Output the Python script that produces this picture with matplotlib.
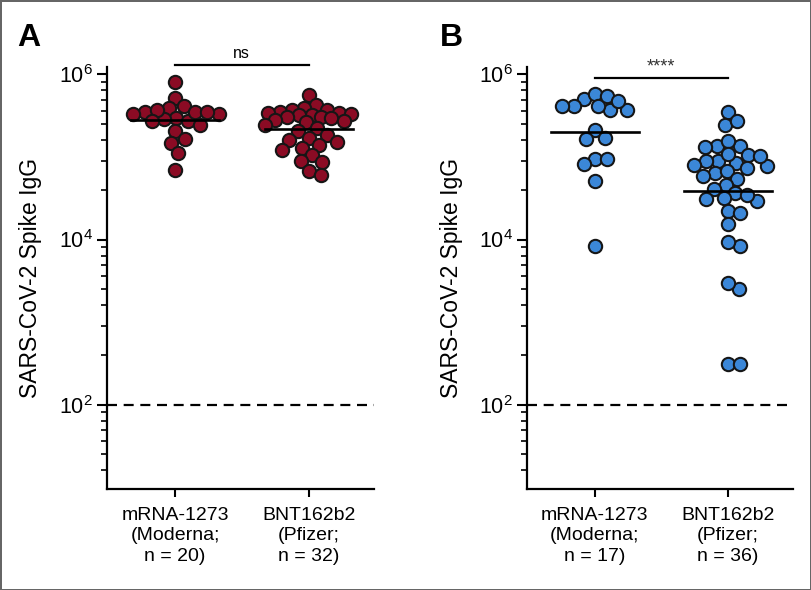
import numpy as np
import matplotlib.pyplot as plt
from matplotlib.ticker import FixedLocator, NullFormatter

plt.rcParams['font.family'] = ['Liberation Sans', 'DejaVu Sans']

# SARS-CoV-2 spike IgG titers
moderna_a = [805000, 525000, 416000, 391000, 352000, 296000, 333000, 288000, 269000, 372000,
             355000, 269000, 245000, 333000, 352000, 204000, 165000, 148000, 112000, 68700]
pfizer_a = [565000, 428000, 394000, 372000, 372000, 355000, 340000, 340000, 333000, 324000,
            324000, 309000, 309000, 296000, 282000, 269000, 267000, 245000, 224000, 204000,
            186000, 171000, 161000, 153000, 141000, 129000, 122000, 106000, 88300, 87700,
            66800, 61000]
moderna_b = [501000, 577000, 366000, 416000, 416000, 555000, 372000, 416000, 474000, 213000,
             166000, 172000, 95300, 95300, 82800, 50700, 8450]
pfizer_b = [349000, 245000, 272000, 134000, 137000, 132000, 156000, 84500, 78300, 89300,
            89300, 106000, 104000, 109000, 80000, 73500, 64000, 66800, 59300, 54600,
            45800, 41000, 36600, 29000, 35000, 31300, 31900, 22000, 21000, 15600,
            8450, 9270, 2540, 3000, 308, 308]

labels_a = ['mRNA-1273\n(Moderna;\nn = 20)', 'BNT162b2\n(Pfizer;\nn = 32)']
labels_b = ['mRNA-1273\n(Moderna;\nn = 17)', 'BNT162b2\n(Pfizer;\nn = 36)']
cutoff = 100

red = '#8b0b24'
blue = '#3b87d8'


def swarm_x(ax, values, x0, half_width=0.33, dia=12.0):
    # simple beeswarm in pixel space, points may overlap when the group is too wide
    ppu = ax.transData.transform((1, 1))[0] - ax.transData.transform((0, 1))[0]
    vals = np.asarray(values, dtype=float)
    ypix = ax.transData.transform(np.column_stack([np.full(len(vals), x0), vals]))[:, 1]
    steps = np.arange(1, half_width * ppu + 0.5, 1.0)
    cands = np.concatenate([[0.0], np.ravel(np.column_stack([steps, -steps]))])
    xs = np.zeros(len(vals))
    px, py = [], []
    for i in np.argsort(-vals, kind='stable'):
        best, best_d = 0.0, -1.0
        for c in cands:
            d = np.min(np.hypot(np.array(px) - c, np.array(py) - ypix[i])) if px else np.inf
            if d >= dia:
                best = c
                break
            if d > best_d + 1e-9:
                best, best_d = c, d
        xs[i] = best
        px.append(best)
        py.append(ypix[i])
    return x0 + xs / ppu


fig = plt.figure(figsize=(8.11, 5.9), dpi=100)
fig.patch.set_edgecolor('#666666')
fig.patch.set_linewidth(2)

ax_a = fig.add_axes([107 / 811, 101 / 590, 267 / 811, 422 / 590])
ax_b = fig.add_axes([527 / 811, 101 / 590, 266 / 811, 422 / 590])

minor = [100.0 ** n * k ** 2 for n in range(0, 4) for k in range(2, 10)]

panels = [(ax_a, [moderna_a, pfizer_a], labels_a, red),
          (ax_b, [moderna_b, pfizer_b], labels_b, blue)]

for ax, groups, labels, color in panels:
    ax.set_yscale('log')
    ax.set_ylim(9.5, 1.23e6)
    ax.set_xlim(-0.51, 1.49)
    for sp in ['top', 'right']:
        ax.spines[sp].set_visible(False)
    for sp in ['left', 'bottom']:
        ax.spines[sp].set_linewidth(1.6)

    ax.yaxis.set_major_locator(FixedLocator([1e2, 1e4, 1e6]))
    ax.set_yticklabels([r'$\mathregular{10^{2}}$', r'$\mathregular{10^{4}}$',
                        r'$\mathregular{10^{6}}$'])
    ax.yaxis.set_minor_locator(FixedLocator(minor))
    ax.yaxis.set_minor_formatter(NullFormatter())
    ax.tick_params(axis='y', which='major', length=7, width=1.5, labelsize=15.5, pad=3)
    ax.tick_params(axis='y', which='minor', length=4, width=1.2)
    ax.set_xticks([0, 1])
    ax.set_xticklabels(labels, fontsize=14, linespacing=1.25)
    ax.tick_params(axis='x', length=6, width=1.5, pad=7)

    ax.axhline(cutoff, color='black', lw=1.6, ls=(0, (4.5, 3)), zorder=1)

    for x0, vals in enumerate(groups):
        xs = swarm_x(ax, vals, x0)
        ax.scatter(xs, vals, s=92, color=color, edgecolors='#161616', linewidths=1.5, zorder=3)
        gm = 10 ** np.mean(np.log10(vals))
        ax.plot([x0 - 0.33, x0 + 0.33], [gm, gm], color='black', lw=1.9, zorder=4)

    ax.set_ylabel('SARS-CoV-2 Spike IgG', fontsize=16.5)
    ax.yaxis.label.set_va('center')
    ax.yaxis.set_label_coords(-0.285, 0.5)

# significance brackets
ax_a.plot([0, 1], [1.30e6, 1.30e6], color='black', lw=1.6, clip_on=False)
ax_a.text(0.5, 1.60e6, 'ns', ha='center', va='baseline', fontsize=11.5)
ax_b.plot([0, 1], [9.15e5, 9.15e5], color='black', lw=1.6, clip_on=False)
ax_b.text(0.5, 1.10e6, '****', ha='center', va='baseline', fontsize=13, color='#333333')

fig.text(17 / 811, 1 - 46 / 590, 'A', fontsize=23, fontweight='bold', va='baseline')
fig.text(440 / 811, 1 - 46 / 590, 'B', fontsize=23, fontweight='bold', va='baseline')

fig.savefig('out.png', dpi=100)
